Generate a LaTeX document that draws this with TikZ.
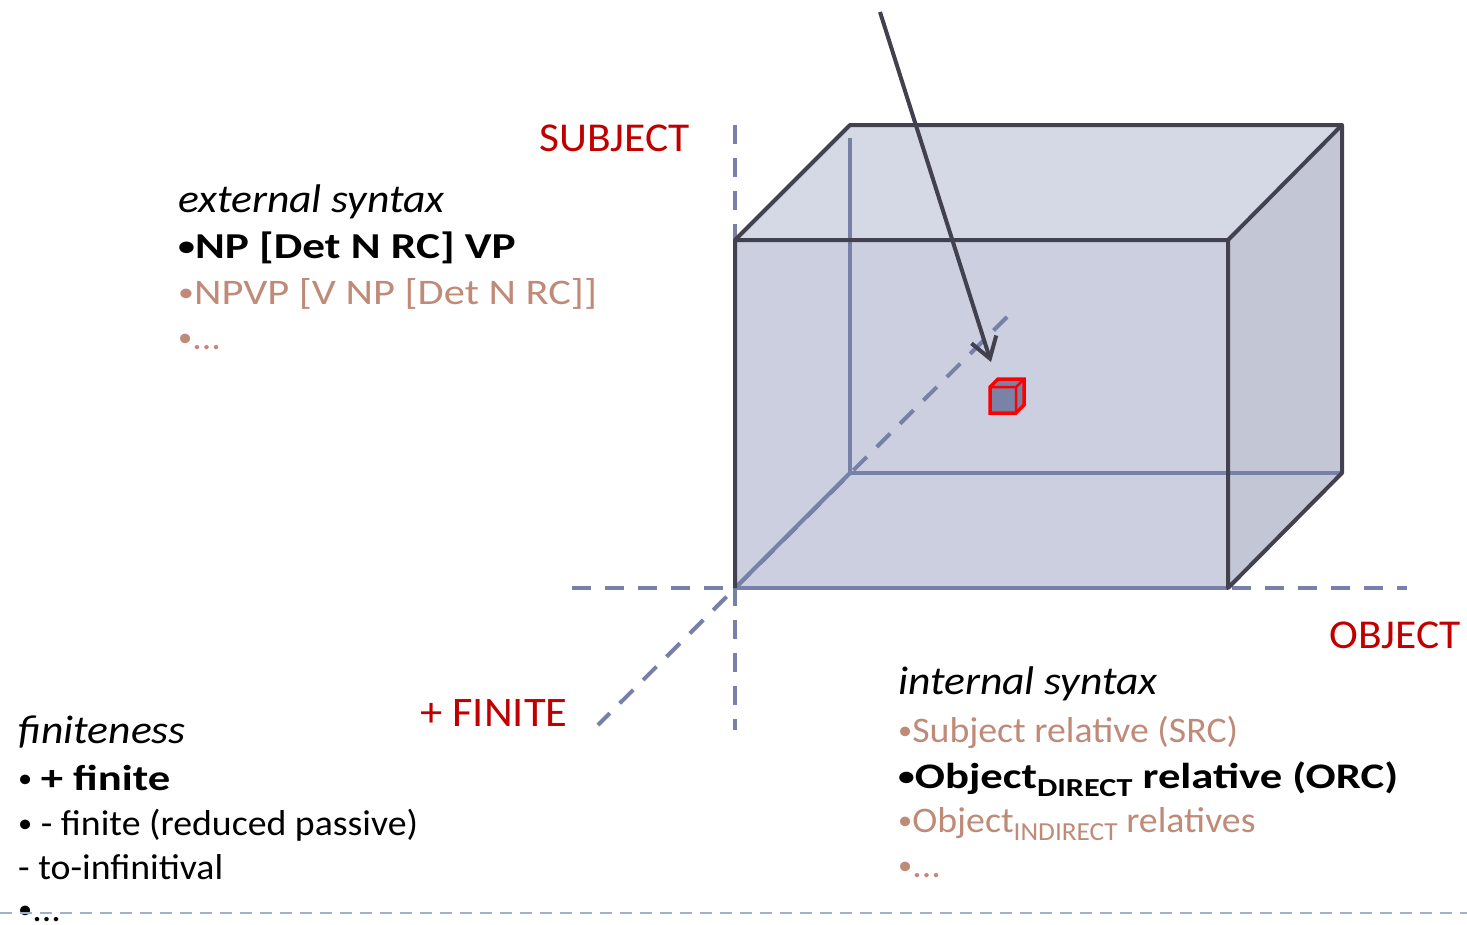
\documentclass[tikz,border=0pt]{standalone}
\usepackage{fontspec}
\usepackage{graphicx}
\setmainfont{Carlito}
\newfontfamily\regf{Carlito}[FakeStretch=1.05]
\newfontfamily\bldf{Carlito}[FakeStretch=1.24]
\newfontfamily\itf{Carlito}[FakeStretch=1.09]
\newfontfamily\redf{Carlito}[FakeStretch=1.06]
\newfontfamily\capf{Carlito}[FakeStretch=1.18]
\usetikzlibrary{arrows.meta}
\definecolor{axisc}{HTML}{7680A8}
\definecolor{edgec}{HTML}{414150}
\definecolor{labred}{HTML}{C00000}
\definecolor{brownc}{HTML}{C08A78}
\definecolor{frontc}{HTML}{CBCFDF}
\definecolor{topc}{HTML}{D5D8E5}
\definecolor{sidec}{HTML}{C3C6D5}
\definecolor{cubefill}{HTML}{7A82A6}
\definecolor{rulec}{HTML}{9FB2CC}
\tikzset{
  axisline/.style={draw=axisc, line width=4pt, dash pattern=on 19pt off 14pt},
  hidden/.style={draw=axisc, line width=4pt},
  edge/.style={draw=edgec, line width=4pt, line join=round},
  txt/.style={anchor=base west, inner sep=0pt, font=\regf\fontsize{36}{40}\selectfont},
  bld/.style={anchor=base west, inner sep=0pt, font=\bldf\bfseries\fontsize{36}{40}\selectfont},
  ital/.style={anchor=base west, inner sep=0pt, font=\itf\itshape\fontsize{40}{44}\selectfont},
  lab/.style={inner sep=0pt, text=labred, font=\redf\fontsize{41}{44}\selectfont},
  brn/.style={text=brownc},
}
\newcommand{\subs}[1]{\raisebox{-0.24em}{\fontsize{26}{26}\selectfont #1}}
\newcommand{\bul}{\raisebox{0.08em}{\scalebox{0.75}{•}}}
\begin{document}
\begin{tikzpicture}[x=1pt,y=-1pt]
\useasboundingbox (0,0) rectangle (1467,924);
% box corners
\coordinate (F1) at (735,240);
\coordinate (F2) at (1228,240);
\coordinate (F3) at (1228,588);
\coordinate (F4) at (735,588);
\coordinate (B1) at (850,125);
\coordinate (B2) at (1342,125);
\coordinate (B3) at (1342,473);
\coordinate (B4) at (850,473);
% faces
\fill[frontc] (F1) -- (F2) -- (F3) -- (F4) -- cycle;
\fill[topc] (F1) -- (B1) -- (B2) -- (F2) -- cycle;
\fill[sidec] (F2) -- (B2) -- (B3) -- (F3) -- cycle;
% hidden edges
\draw[hidden] (850,138) -- (B4);
\draw[hidden] (B4) -- (B3);
\draw[hidden] (F4) -- (B4);
% axes
\coordinate (dz1) at (598,725);
\coordinate (dz2) at (1007,317);
\coordinate (vx1) at (735,125);
\coordinate (vx2) at (735,730);
\coordinate (hx1) at (572,588);
\coordinate (hx2) at (1407,588);
\draw[axisline] (dz2) -- (dz1);
\draw[axisline] (vx1) -- (vx2);
\draw[axisline] (hx1) -- (hx2);
\draw[hidden] (F1) -- (F4) -- (F3);
% dark edges
\draw[edge] (F4) -- (F1) -- (B1) -- (B2) -- (B3) -- (F3) -- (F2) -- (F1);
\draw[edge] (F2) -- (B2);
% small cube
\coordinate (c1) at (990,387);
\coordinate (c2) at (1016,387);
\coordinate (c3) at (1016,413);
\coordinate (c4) at (990,413);
\coordinate (c5) at (998,379);
\coordinate (c6) at (1024,379);
\coordinate (c7) at (1024,405);
\filldraw[fill=cubefill, draw=red, line width=3.5pt, line join=miter]
  (c4) -- (c1) -- (c5) -- (c6) -- (c7) -- (c3) -- cycle;
\draw[red, line width=2.5pt] (c1) -- (c2) -- (c3) (c2) -- (c6);
% arrow
\coordinate (arrS) at (880,12);
\coordinate (arrE) at (991,362);
\draw[draw=edgec, line width=4pt, -{Straight Barb[length=20pt,width=26pt,line width=4pt]}] (arrS) -- (arrE);
% labels
\node[lab, anchor=base east] (subj) at (690,151) {SUBJECT};
\node[lab, anchor=base east] (obj) at (1461,648) {OBJECT};
\node[lab, anchor=base west, font=\redf\fontsize{42}{44}\selectfont] (fin) at (420,726) {+ FINITE};
% external syntax
\node[ital] (ext) at (178,212) {external syntax};
\node[bld, font=\bldf\bfseries\fontsize{36.5}{40}\selectfont] (ext1) at (178,258) {\bul NP [Det N RC] VP};
\node[txt, brn, font=\capf\fontsize{36}{40}\selectfont] (ext2) at (178,304) {\bul NPVP [V NP [Det N RC]]};
\node[txt, brn] (ext3) at (178,349) {\bul...};
% internal syntax
\node[ital] (int) at (898,694) {internal syntax};
\node[txt, brn] (int1) at (898,742) {\bul Subject relative (SRC)};
\node[bld] (int2) at (898,788) {\bul Object\subs{DIRECT} relative (ORC)};
\node[txt, brn] (int3) at (898,832) {\bul Object\subs{INDIRECT} relatives};
\node[txt, brn] (int4) at (898,877) {\bul...};
% finiteness
\node[ital] (fn) at (18,743) {finiteness};
\node[txt] (fn1) at (18,790) {\bul\ {\bldf\bfseries + finite}};
\node[txt] (fn2) at (18,835) {\bul\ - finite (reduced passive)};
\node[txt] (fn3) at (18,879) {- to-infinitival};
\node[txt] (fn4) at (18,921) {\bul...};
% bottom dashed rule
\coordinate (r1) at (0,913);
\coordinate (r2) at (1467,913);
\draw[draw=rulec, line width=2pt, dash pattern=on 12pt off 8pt] (r1) -- (r2);
\end{tikzpicture}
\end{document}
